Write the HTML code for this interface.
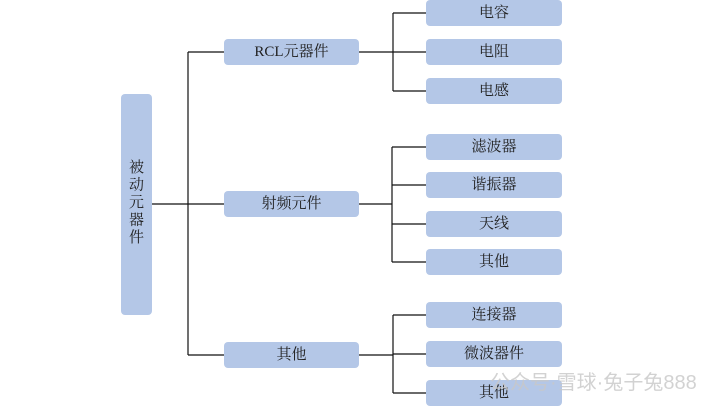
<!DOCTYPE html>
<html><head><meta charset="utf-8"><style>
html,body{margin:0;padding:0;background:#fff;}
svg{display:block}
text{font-family:"Liberation Serif","Noto Serif CJK SC",serif;font-size:15px;fill:#222;}
</style></head><body>
<svg width="713" height="412" viewBox="0 0 713 412" xmlns="http://www.w3.org/2000/svg">
<g fill="#b4c7e7">
<rect x="121" y="94" width="31" height="221" rx="4"/>
<rect x="224" y="39" width="135" height="26" rx="4"/>
<rect x="224" y="191" width="135" height="26" rx="4"/>
<rect x="224" y="342" width="135" height="26" rx="4"/>
<rect x="426" y="0" width="136" height="26" rx="4"/>
<rect x="426" y="39" width="136" height="26" rx="4"/>
<rect x="426" y="78" width="136" height="26" rx="4"/>
<rect x="426" y="134" width="136" height="26" rx="4"/>
<rect x="426" y="172" width="136" height="26" rx="4"/>
<rect x="426" y="211" width="136" height="26" rx="4"/>
<rect x="426" y="249" width="136" height="26" rx="4"/>
<rect x="426" y="302" width="136" height="26" rx="4"/>
<rect x="426" y="341" width="136" height="26" rx="4"/>
<rect x="426" y="380" width="136" height="26" rx="4"/>
</g>
<g stroke="#111" stroke-width="1.2" fill="none">
<path d="M152 204H224M188 52V355M188 52H224M188 355H224"/>
<path d="M359 52H393M393 13V91M393 13H426M393 52H426M393 91H426"/>
<path d="M359 204H392M392 147V262M392 147H426M392 185H426M392 224H426M392 262H426"/>
<path d="M359 355H393M393 315V393M393 315H426M393 354H426M393 393H426"/>
</g>
<g text-anchor="middle" dominant-baseline="central">
<text x="136.5" y="168">被</text>
<text x="136.5" y="185.5">动</text>
<text x="136.5" y="203">元</text>
<text x="136.5" y="220.5">器</text>
<text x="136.5" y="238">件</text>
<text x="291.5" y="52">RCL元器件</text>
<text x="291.5" y="204">射频元件</text>
<text x="291.5" y="355">其他</text>
<text x="494" y="13">电容</text>
<text x="494" y="52">电阻</text>
<text x="494" y="91">电感</text>
<text x="494" y="147">滤波器</text>
<text x="494" y="185">谐振器</text>
<text x="494" y="224">天线</text>
<text x="494" y="262">其他</text>
<text x="494" y="315">连接器</text>
<text x="494" y="354">微波器件</text>
<text x="494" y="393">其他</text>
</g>
<text x="490" y="389" style="font-family:'Liberation Sans','Noto Sans CJK SC',sans-serif;font-size:20px;fill:#c8c8c8;opacity:0.8">公众号·雪球·兔子兔888</text>
</svg>
</body></html>
